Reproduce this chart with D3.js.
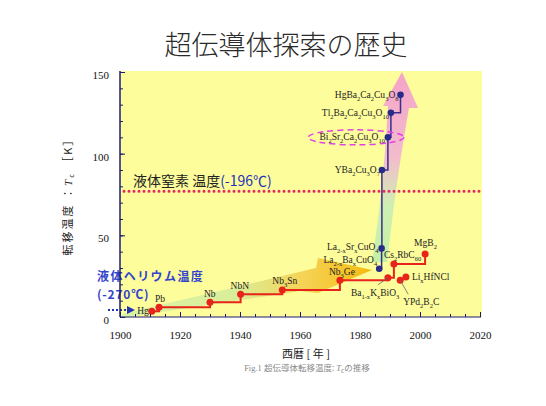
<!DOCTYPE html>
<html><head><meta charset="utf-8">
<script src="https://cdn.jsdelivr.net/npm/d3@7"></script>
<style>body{margin:0;background:#fff}svg{display:block}</style>
</head><body>
<script>
// ---------- data ----------
const conventionalNames = ["Hg","Pb","Nb","NbN","Nb_{3}Sn","Nb_{3}Ge","Ba_{1-x}K_{x}BiO_{3}","Cs_{2}RbC_{60}","MgB_{2}"];
const conventionalYears = [1910.6,1913,1930,1940.2,1954.1,1973.3,1989.3,1991.3,2001.7];
const conventionalTc    = [3.5,6,9,14,16.5,22.5,24,32.5,38.5];
const otherNames = ["Li_{x}HfNCl","YPd_{2}B_{2}C"];
const otherYears = [1995.3,1993.4];
const otherTc    = [24.5,22.5];
const cuprateNames = ["La_{2-x}Ba_{x}CuO_{4}","La_{2-x}Sr_{x}CuO_{4}","YBa_{2}Cu_{3}O_{7}","Bi_{2}Sr_{2}Ca_{2}Cu_{3}O_{10}","Tl_{2}Ba_{2}Ca_{2}Cu_{3}O_{10}","HgBa_{2}Ca_{2}Cu_{3}O_{8}"];
const cuprateYears = [1986.4,1987.2,1987.3,1989.3,1990.3,1993.5];
const cuprateTc    = [29.5,42,90,110,125,136];
const nitrogenTc = 77;
const xTicks = [1900,1920,1940,1960,1980,2000,2020];
const yTicks = [0,50,100,150];

// ---------- layout (label offsets, not data) ----------
const labelLayout = {
  "Hg":{dx:-3,dy:3,anchor:"end"},
  "Pb":{dx:-4,dy:-5,anchor:"start"},
  "Nb":{dx:-6,dy:-5,anchor:"start"},
  "NbN":{dx:-10,dy:-5,anchor:"start"},
  "Nb_{3}Sn":{dx:-10,dy:-6,anchor:"start"},
  "Nb_{3}Ge":{dx:-11,dy:-5,anchor:"start"},
  "Ba_{1-x}K_{x}BiO_{3}":{dx:-37,dy:18,anchor:"start",leader:[-10,7]},
  "Cs_{2}RbC_{60}":{dx:-10,dy:-6,anchor:"start"},
  "MgB_{2}":{dx:-11,dy:-8,anchor:"start"},
  "Li_{x}HfNCl":{dx:6,dy:3,anchor:"start"},
  "YPd_{2}B_{2}C":{dx:3,dy:25,anchor:"start",leader:[8,14]},
  "La_{2-x}Ba_{x}CuO_{4}":{dx:-2,dy:-6,anchor:"end"},
  "La_{2-x}Sr_{x}CuO_{4}":{dx:-3,dy:2,anchor:"end"},
  "YBa_{2}Cu_{3}O_{7}":{dx:-2,dy:3,anchor:"end"},
  "Bi_{2}Sr_{2}Ca_{2}Cu_{3}O_{10}":{dx:-3,dy:3,anchor:"end"},
  "Tl_{2}Ba_{2}Ca_{2}Cu_{3}O_{10}":{dx:-2,dy:3,anchor:"end"},
  "HgBa_{2}Ca_{2}Cu_{3}O_{8}":{dx:-2,dy:3,anchor:"end"}
};

const W=546,H=406;
const svg=d3.select("body").append("svg").attr("width",W).attr("height",H);
const x=d3.scaleLinear().domain([1900,2020]).range([120,480]);
const y=d3.scaleLinear().domain([0,150]).range([317,72]);
const defs=svg.append("defs");

// title
svg.append("text").attr("x",286).attr("y",55).attr("text-anchor","middle")
  .attr("font-family","'Noto Sans CJK JP'").attr("font-weight",300).attr("font-size",27).attr("fill","#2a2a2a")
  .text("超伝導体探索の歴史");

// background
svg.append("rect").attr("x",x(1900)).attr("y",71).attr("width",482-x(1900)).attr("height",y(0)-71).attr("fill","#fdfd9c");

// gradients
const g1=defs.append("linearGradient").attr("id","lowband").attr("gradientUnits","userSpaceOnUse")
  .attr("x1",122).attr("y1",0).attr("x2",372).attr("y2",0);
[[0,"#d4f2a8"],[0.45,"#d6ec98"],[0.72,"#f4cf50"],[1,"#f4b400"]].forEach(s=>g1.append("stop").attr("offset",s[0]).attr("stop-color",s[1]));
const g2=defs.append("linearGradient").attr("id","upband").attr("gradientUnits","userSpaceOnUse")
  .attr("x1",0).attr("y1",262).attr("x2",0).attr("y2",72);
[[0,"#bff0a6"],[0.3,"#cdeeb4"],[0.55,"#f2b8cf"],[1,"#f59fcb"]].forEach(s=>g2.append("stop").attr("offset",s[0]).attr("stop-color",s[1]));

svg.append("path").attr("d","M122,318 L300,291 L318,293 L372,270 L318,258 L316,268 L122,314 Z")
  .attr("fill","url(#lowband)").attr("opacity",0.9);
svg.append("path").attr("d","M372,262 L387,262 Q397,175 409,108 L418,108 L402,72 L383,106 L388,106 Q384,185 372,262 Z")
  .attr("fill","url(#upband)").attr("opacity",0.95);

// nitrogen line
svg.append("line").attr("x1",x(1900)+4).attr("x2",482).attr("y1",y(nitrogenTc)).attr("y2",y(nitrogenTc))
  .attr("stroke","#e3265e").attr("stroke-width",3).attr("stroke-dasharray","0,5").attr("stroke-linecap","round");
const nt=svg.append("text").attr("x",133).attr("y",y(nitrogenTc)-5).attr("font-family","'Noto Sans CJK JP'").attr("font-size",14);
nt.append("tspan").attr("fill","#222").text("液体窒素 温度");
nt.append("tspan").attr("fill","#2630b8").text("(-196℃)");

// helium text
svg.append("text").attr("x",97).attr("y",281).attr("font-family","'Noto Sans CJK JP'").attr("font-weight","bold")
  .attr("font-size",12).attr("letter-spacing",1.4).attr("fill","#3344cc").text("液体ヘリウム温度");
svg.append("text").attr("x",97).attr("y",299).attr("font-family","'Noto Sans CJK JP'").attr("font-weight","bold")
  .attr("font-size",12).attr("letter-spacing",0.8).attr("fill","#3344cc").text("(-270℃)");
svg.append("line").attr("x1",108).attr("x2",128).attr("y1",310).attr("y2",310)
  .attr("stroke","#2232b0").attr("stroke-width",2).attr("stroke-dasharray","2,2");
svg.append("path").attr("d","M127,306 L135,310 L127,314 Z").attr("fill","#2232b0");

// lines
const stepLine=d3.line().x(d=>x(d[0])).y(d=>y(d[1])).curve(d3.curveStepAfter);
const conv=conventionalYears.map((v,i)=>[v,conventionalTc[i]]);
const cup=cuprateYears.map((v,i)=>[v,cuprateTc[i]]);
svg.append("path").attr("d",stepLine(conv)).attr("fill","none").attr("stroke","#e8231a").attr("stroke-width",2);
svg.append("path").attr("d",stepLine(cup)).attr("fill","none").attr("stroke","#3a2e8c").attr("stroke-width",1.5);

// dashed ellipse around Bi label
svg.append("ellipse").attr("cx",356).attr("cy",y(110)).attr("rx",48).attr("ry",7.5)
  .attr("fill","none").attr("stroke","#e040e8").attr("stroke-width",1.5).attr("stroke-dasharray","6,4");

// points
const allRed=conv.concat(otherYears.map((v,i)=>[v,otherTc[i]]));
svg.selectAll("circle.r").data(allRed).join("circle").attr("class","r")
  .attr("cx",d=>x(d[0])).attr("cy",d=>y(d[1])).attr("r",3.5).attr("fill","#e8231a");
svg.selectAll("circle.b").data(cup).join("circle").attr("class","b")
  .attr("cx",d=>x(d[0])).attr("cy",d=>y(d[1])).attr("r",3.3).attr("fill","#2a2a8a");

// labels
function addLabel(name,yr,tc){
  const L=labelLayout[name]; const px=x(yr),py=y(tc);
  if(L.leader){
    svg.append("line").attr("x1",px).attr("y1",py).attr("x2",px+L.leader[0]).attr("y2",py+L.leader[1])
      .attr("stroke","#666").attr("stroke-width",0.8);
  }
  const t=svg.append("text").attr("x",px+L.dx).attr("y",py+L.dy).attr("text-anchor",L.anchor)
    .attr("font-family","'Liberation Serif'").attr("font-size",9.5).attr("fill","#222");
  const parts=name.split(/(_\{[^}]*\})/).filter(s=>s.length);
  parts.forEach(p=>{
    if(p.startsWith("_{")){
      t.append("tspan").attr("font-size",6.5).attr("baseline-shift","-2.5").text(p.slice(2,-1));
    } else {
      t.append("tspan").text(p);
    }
  });
}
conventionalNames.forEach((n,i)=>addLabel(n,conventionalYears[i],conventionalTc[i]));
otherNames.forEach((n,i)=>addLabel(n,otherYears[i],otherTc[i]));
cuprateNames.forEach((n,i)=>addLabel(n,cuprateYears[i],cuprateTc[i]));

// axes
const axCol="#1c1c6a";
const xMinor=d3.range(1900,2021,5);
const gx=svg.append("g").attr("transform",`translate(0,${y(0)})`)
  .call(d3.axisBottom(x).tickValues(xMinor).tickSize(-3).tickFormat(""));
gx.selectAll("line").attr("stroke",axCol);
gx.select(".domain").attr("stroke",axCol).attr("d",`M${x(1900)},0H${481}`);
const gx2=svg.append("g").attr("transform",`translate(0,${y(0)})`)
  .call(d3.axisBottom(x).tickValues(xTicks).tickSize(-5).tickPadding(14).tickFormat(d3.format("d")));
gx2.select(".domain").remove();
gx2.selectAll("line").attr("stroke",axCol);
gx2.selectAll("text").attr("font-family","'Liberation Serif'").attr("font-size",11).attr("fill","#111");

const gy=svg.append("g").attr("transform",`translate(${x(1900)},0)`)
  .call(d3.axisLeft(y).tickValues(d3.range(0,151,10)).tickSize(-3).tickFormat(""));
gy.selectAll("line").attr("stroke",axCol);
gy.select(".domain").attr("stroke",axCol).attr("stroke-width",1.5).attr("d",`M0,${y(0)}V71`);
const gy2=svg.append("g").attr("transform",`translate(${x(1900)},0)`)
  .call(d3.axisLeft(y).tickValues(yTicks).tickSize(-5).tickPadding(11));
gy2.select(".domain").remove();
gy2.selectAll("line").attr("stroke",axCol);
gy2.selectAll("text").attr("font-family","'Liberation Serif'").attr("font-size",11).attr("fill","#111").attr("dy","0.6em");

// axis titles
const yl=svg.append("text").attr("transform","translate(72,194) rotate(-90)").attr("text-anchor","middle")
  .attr("font-family","'Noto Sans CJK JP'").attr("font-size",11).attr("letter-spacing",2).attr("fill","#222");
yl.append("tspan").text("転移温度 ：");
yl.append("tspan").attr("font-family","'Liberation Serif'").attr("font-style","italic").text("T");
yl.append("tspan").attr("font-size",7).attr("baseline-shift","-2").text("c");
yl.append("tspan").text(" ［K］");

svg.append("text").attr("x",306).attr("y",358).attr("text-anchor","middle")
  .attr("font-family","'Noto Sans CJK JP'").attr("font-size",11).attr("fill","#222").text("西暦 [ 年 ]");
const cap=svg.append("text").attr("x",307).attr("y",371).attr("text-anchor","middle")
  .attr("font-family","'Noto Sans CJK JP'").attr("font-size",8.5).attr("fill","#888");
cap.append("tspan").attr("font-family","'Liberation Serif'").text("Fig.1 ");
cap.append("tspan").text("超伝導体転移温度: ");
cap.append("tspan").attr("font-family","'Liberation Serif'").attr("font-style","italic").text("T");
cap.append("tspan").attr("font-size",6.5).attr("baseline-shift","-2").text("c");
cap.append("tspan").text("の推移");
</script>
</body></html>
